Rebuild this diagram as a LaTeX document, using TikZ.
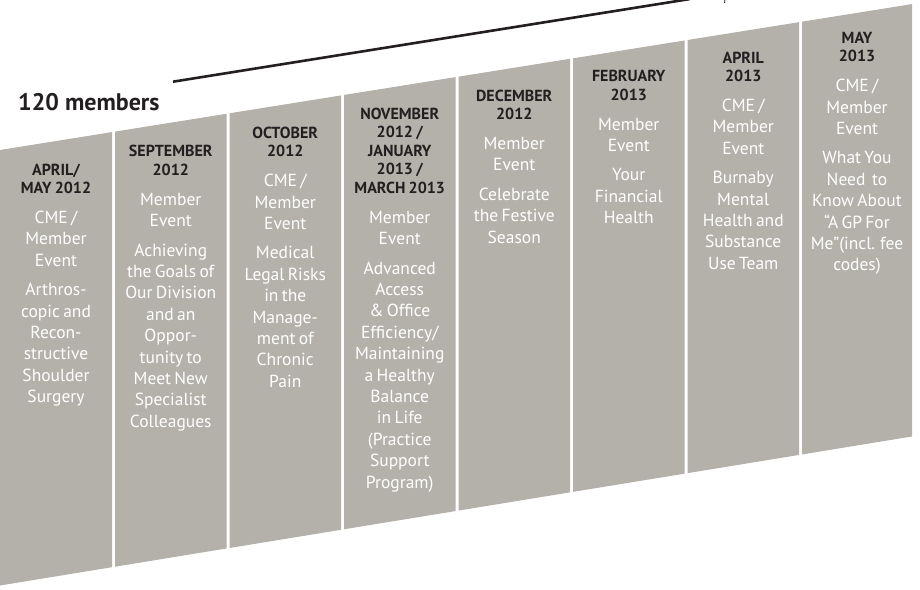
\documentclass[tikz,border=0pt]{standalone}
\usepackage{fontspec}
\setmainfont{PT Sans}
\definecolor{colfill}{RGB}{180,177,171}
\definecolor{hdcol}{RGB}{35,31,32}
\newcommand\hdblock[1]{{\fontsize{16}{18.5}\selectfont\bfseries\leavevmode\color{hdcol}#1\par}}
\newcommand\bdblock[1]{{\fontsize{17.5}{21.4}\selectfont\leavevmode\color{white}#1\par}}
\newcommand\hgap{\vspace{8.5pt}}
\newcommand\bgap{\vspace{8pt}}
\tikzset{
  coltext/.style={text width=118pt, align=center, inner sep=0pt, anchor=base},
  colshape/.style={fill=colfill, draw=none},
  trendline/.style={draw=hdcol, line width=2.6pt},
  titletext/.style={font=\fontsize{24}{28}\selectfont\bfseries, text=hdcol, anchor=base west, inner sep=0pt}
}
\begin{document}
\begin{tikzpicture}[x=1pt,y=-1pt]
\useasboundingbox (0,0) rectangle (920,589);
\clip (0,0) rectangle (920,589);
% columns
\foreach \L/\R in {0/112,115/226.5,229.5/341,344/455.5,458.5/570,573/684.5,687.5/799,802/912}{
  \pgfmathsetmacro\ytopl{150-0.16*\L}
  \pgfmathsetmacro\ytopr{150-0.16*\R}
  \pgfmathsetmacro\ybotl{585.5-0.1634*\L}
  \pgfmathsetmacro\ybotr{585.5-0.1634*\R}
  \fill[colshape] (\L,\ytopl) -- (\R,\ytopr) -- (\R,\ybotr) -- (\L,\ybotl) -- cycle;
}
% trend line
\coordinate (ls) at (173,81.7);
\coordinate (le) at (690,-1);
\draw[trendline] (ls) -- (le);
\coordinate (ma) at (725,-1);
\coordinate (mb) at (724.6,2.8);
\draw[hdcol, line width=0.8pt] (ma) -- (mb);
% title
\node[titletext] (title) at (18,110) {120 members};
% column texts
\node[coltext] (c1) at (56,175) {\hdblock{APRIL/\\MAY 2012}\hgap\bdblock{CME /\\Member\\Event}\bgap\bdblock{Arthros-\\copic and\\Recon-\\structive\\Shoulder\\Surgery}};
\node[coltext] (c2) at (170.75,156.8) {\hdblock{SEPTEMBER\\2012}\hgap\bdblock{Member\\Event}\bgap\bdblock{Achieving\\the Goals of\\Our Division\\and an\\Oppor-\\tunity to\\Meet New\\Specialist\\Colleagues}};
\node[coltext] (c3) at (285.25,138.2) {\hdblock{OCTOBER\\2012}\hgap\bdblock{CME /\\Member\\Event}\bgap\bdblock{Medical\\Legal Risks\\in the\\Manage-\\ment of\\Chronic\\Pain}};
\node[coltext] (c4) at (399.75,119.3) {\hdblock{NOVEMBER\\2012 /\\JANUARY\\2013 /\\MARCH 2013}\hgap\bdblock{Member\\Event}\bgap\bdblock{Advanced\\Access\\\& Office\\Efficiency/\\Maintaining\\a Healthy\\Balance\\in Life\\(Practice\\Support\\Program)}};
\node[coltext] (c5) at (514.25,101) {\hdblock{DECEMBER\\2012}\hgap\bdblock{Member\\Event}\bgap\bdblock{Celebrate\\the Festive\\Season}};
\node[coltext] (c6) at (628.75,81.7) {\hdblock{FEBRUARY\\2013}\hgap\bdblock{Member\\Event}\bgap\bdblock{Your\\Financial\\Health}};
\node[coltext] (c7) at (743.25,63) {\hdblock{APRIL\\2013}\hgap\bdblock{CME /\\Member\\Event}\bgap\bdblock{Burnaby\\Mental\\Health and\\Substance\\Use Team}};
\node[coltext] (c8) at (857,43.3) {\hdblock{MAY\\2013}\hgap\bdblock{CME /\\Member\\Event}\bgap\bdblock{What You\\Need\ \ to\\Know About\\“A GP For\\Me”(incl. fee\\codes)}};
\end{tikzpicture}
\end{document}
